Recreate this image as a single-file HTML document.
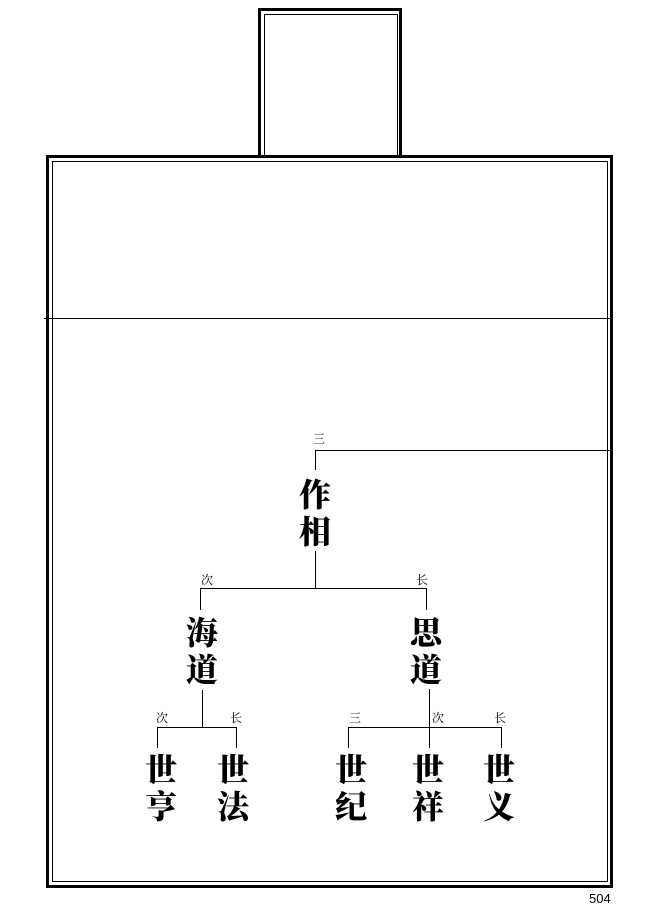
<!DOCTYPE html>
<html><head><meta charset="utf-8"><style>
body{margin:0;background:#fff;width:656px;height:914px;position:relative;overflow:hidden}
.c{position:absolute;font-family:"Liberation Serif","Noto Serif CJK SC",serif;font-weight:900;font-size:32px;line-height:37px;width:40px;text-align:center;color:#000}
.s{position:absolute;font-family:"Liberation Serif","Noto Serif CJK SC",serif;font-size:12px;line-height:12px;color:#000}
</style></head><body>
<svg width="656" height="914" style="position:absolute;left:0;top:0" shape-rendering="crispEdges">
<g fill="none" stroke="#000">
<rect x="259.5" y="9.5" width="141" height="150" stroke-width="3"/>
<rect x="264.5" y="14.5" width="133" height="145" stroke-width="1"/>
<rect x="47.5" y="156.5" width="564" height="730" stroke-width="3" fill="#fff"/>
<rect x="52.5" y="161.5" width="555" height="720" stroke-width="1"/>
<line x1="44" y1="318.5" x2="612" y2="318.5"/>
<path d="M612 450.5H315.5V470"/>
<path d="M315.5 551V588.5M200.5 610V588.5H426.5V610"/>
<path d="M202.5 690V727.5M157.5 748V727.5H236.5V748"/>
<path d="M429.5 689V748M348.5 748V727.5H501.5V748"/>
</g></svg>
<div class="s" style="left:313px;top:433px">三</div>
<div class="s" style="left:201px;top:574px">次</div>
<div class="s" style="left:416px;top:574px">长</div>
<div class="s" style="left:156px;top:712px">次</div>
<div class="s" style="left:230px;top:712px">长</div>
<div class="s" style="left:349px;top:712px">三</div>
<div class="s" style="left:432px;top:712px">次</div>
<div class="s" style="left:494px;top:712px">长</div>
<div class="c" style="left:295px;top:477px">作<br>相</div>
<div class="c" style="left:182px;top:615px">海<br>道</div>
<div class="c" style="left:406px;top:615px">思<br>道</div>
<div class="c" style="left:141px;top:752px">世<br>亨</div>
<div class="c" style="left:213px;top:752px">世<br>法</div>
<div class="c" style="left:331px;top:752px">世<br>纪</div>
<div class="c" style="left:408px;top:752px">世<br>祥</div>
<div class="c" style="left:479px;top:752px">世<br>义</div>
<div style="position:absolute;left:589px;top:892px;font-family:'Liberation Sans',sans-serif;font-size:13px;line-height:14px">504</div>
</body></html>
